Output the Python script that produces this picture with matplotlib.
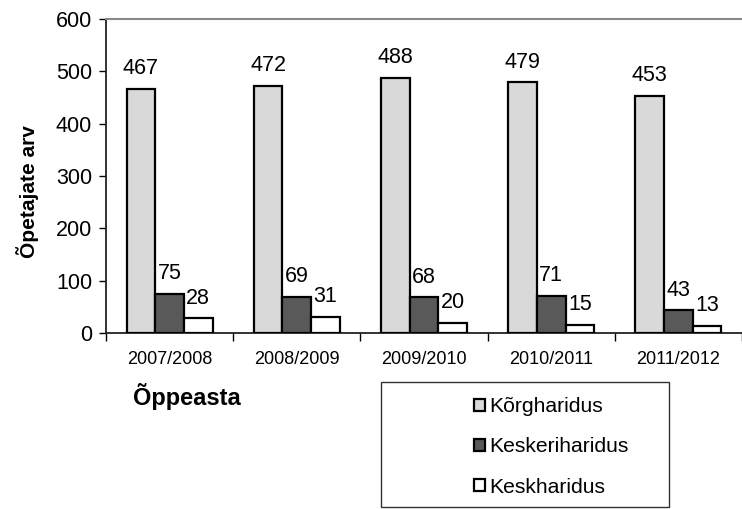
import numpy as np
import matplotlib
matplotlib.use("Agg")
import matplotlib.pyplot as plt
from matplotlib.patches import Rectangle

plt.rcParams['font.family'] = ['Liberation Sans', 'DejaVu Sans']

# data
years = ["2007/2008", "2008/2009", "2009/2010", "2010/2011", "2011/2012"]
korg = [467, 472, 488, 479, 453]
keskeri = [75, 69, 68, 71, 43]
kesk = [28, 31, 20, 15, 13]
series_names = ["Kõrgharidus", "Keskeriharidus", "Keskharidus"]
colors = ["#d9d9d9", "#595959", "#ffffff"]

fig = plt.figure(figsize=(7.42, 5.09), dpi=100)
W, H = 742, 509
ax = fig.add_axes([106 / W, 1 - 333 / H, 1 - 106 / W, (333 - 19) / H])

x = np.arange(len(years))
w = 0.225
for i, (vals, name, c) in enumerate(zip([korg, keskeri, kesk], series_names, colors)):
    bars = ax.bar(x + (i - 1) * w, vals, w, color=c, edgecolor="black",
                  linewidth=1.6, label=name, zorder=3)
    ax.bar_label(bars, padding=7, fontsize=15.5)

ax.set_xlim(-0.5, -0.5 + 636 / 129)
ax.set_ylim(0, 600)
ax.set_yticks(range(0, 601, 100))
ax.tick_params(axis='y', labelsize=15.5, length=5, width=1, pad=5, direction='out')

# ticks between categories, labels at centres
ax.set_xticks(np.arange(-0.5, 5, 1))
ax.set_xticklabels([])
ax.tick_params(axis='x', which='major', length=6, width=1, direction='out')
ax.set_xticks(x, minor=True)
ax.set_xticklabels(years, minor=True, fontsize=13)
ax.tick_params(axis='x', which='minor', length=0, pad=13)

ax.spines['right'].set_visible(False)
ax.spines['top'].set_color('#888888')
ax.spines['top'].set_linewidth(1.5)
ax.spines['left'].set_color('#222222')
ax.spines['bottom'].set_color('#222222')
ax.spines['left'].set_linewidth(1.3)
ax.spines['bottom'].set_linewidth(1.3)

fig.text(28 / W, 1 - 192 / H, "Õpetajate arv", rotation=90, fontsize=15,
         fontweight='bold', ha='center', va='center')
fig.text(187 / W, 1 - 396 / H, "Õppeasta", fontsize=17, fontweight='bold',
         ha='center', va='center')

# legend box
fig.patches.append(Rectangle((381 / W, 1 - 507 / H), (669 - 381) / W, (507 - 382) / H,
                             transform=fig.transFigure, fill=False,
                             edgecolor='#333333', linewidth=1.0))
handles, labels = ax.get_legend_handles_labels()
fig.legend(handles, labels, loc='center left', bbox_to_anchor=(474 / W, 1 - 447 / H),
           frameon=False, fontsize=15.2, handlelength=0.5, handleheight=0.5,
           handletextpad=0.2, labelspacing=1.0, borderaxespad=0, borderpad=0)

fig.savefig("out.png", dpi=100)
